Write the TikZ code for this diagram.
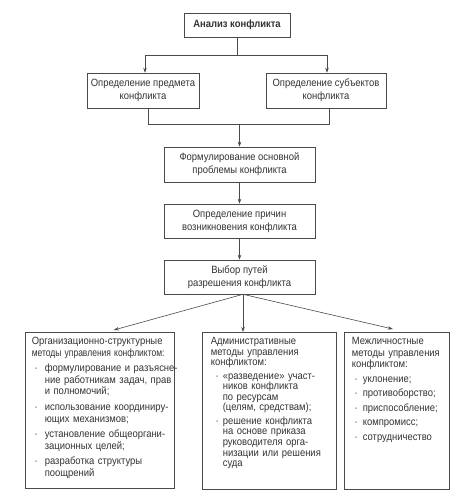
\documentclass[tikz,border=0pt]{standalone}
\usepackage{graphicx}
\usepackage{fontspec}
\setmainfont[FakeStretch=0.9]{Liberation Sans}
\usetikzlibrary{arrows.meta}
\definecolor{ink}{HTML}{333333}
\definecolor{lnc}{HTML}{4a4a4a}
\newlength\itgap
\newlength\bhang
\newlength\bsep
\newcommand\bitem{\par\vspace{\itgap}\leftskip=\bhang\noindent\llap{·\hspace{\bsep}}}
\begin{document}
\begin{tikzpicture}[x=1pt,y=-1pt, line width=0.6pt,
  box/.style={draw=lnc, text=ink, align=center, inner sep=0pt, font=\fontsize{10.5}{13}\selectfont},
  frame/.style={draw=lnc, anchor=north west, inner sep=0pt},
  txt/.style={anchor=north west, inner sep=0pt, text=ink, text width=170pt, font=\fontsize{10.5}{11.5}\selectfont},
  arr/.style={draw=lnc, -{Stealth[length=5pt,width=3.5pt]}},
  conn/.style={draw=lnc}]
\useasboundingbox (0,0) rectangle (462,497);
% top chain
\node[box, minimum width=106pt, minimum height=24pt, font=\bfseries\fontsize{10.5}{13}\selectfont] (A) at (237,25) {Анализ конфликта};
\node[box, minimum width=112pt, minimum height=35pt] (B) at (143,90.5) {Определение предмета\\конфликта};
\node[box, minimum width=120pt, minimum height=35pt] (C) at (326,90.5) {Определение субъектов\\конфликта};
\node[box, minimum width=151pt, minimum height=35pt] (D) at (239.5,164.5) {Формулирование основной\\проблемы конфликта};
\node[box, minimum width=151pt, minimum height=34pt] (E) at (239.5,221) {Определение причин\\возникновения конфликта};
\node[box, minimum width=151pt, minimum height=34pt] (F) at (239.5,277) {Выбор путей\\разрешения конфликта};
% connectors top
\coordinate (j1) at (237,55);
\draw[conn] (A.south) -- (j1);
\draw[arr] (j1) -| ([xshift=2pt]B.north);
\draw[arr] (j1) -| ([xshift=1pt]C.north);
\coordinate (j2) at (239.5,124);
\draw[conn] ([xshift=5pt]B.south) |- (j2);
\draw[conn] ([xshift=3pt]C.south) |- (j2);
\draw[arr] (j2) -- (D.north);
\draw[arr] (D) -- (E);
\draw[arr] (E) -- (F);
% bottom boxes
\node[frame, minimum width=149pt, minimum height=156pt] (G) at (25,332) {};
\node[frame, minimum width=134pt, minimum height=157pt] (H) at (202,332) {};
\node[frame, minimum width=105pt, minimum height=157pt] (I) at (344,332) {};
\coordinate (f0) at ([xshift=3.5pt]F.south);
\draw[arr] (f0) -- ([xshift=14pt,yshift=2pt]G.north);
\draw[arr] (f0) -- (f0 |- H.north);
\draw[arr] (f0) -- ([xshift=-4pt,yshift=3pt]I.north);
% bottom texts
\node[txt] (Gt) at (31.5,337) {\raggedright\setlength\itgap{4.2pt}\setlength\bhang{13pt}\setlength\bsep{7pt}%
Организационно-структурные\newline \scalebox{0.9}[1]{методы управления конфликтом:}
\bitem формулирование и разъясне-\newline ние работникам задач, прав\newline и полномочий;
\bitem использование координиру-\newline ющих механизмов;
\bitem установление общеоргани-\newline зационных целей;
\bitem разработка структуры\newline поощрений\par};
\node[txt, font=\fontsize{10.5}{10.6}\selectfont] (Ht) at (210.5,337) {\raggedright\setlength\itgap{2.8pt}\setlength\bhang{12pt}\setlength\bsep{4pt}%
Административные\newline методы управления\newline конфликтом:
\bitem «разведение» участ-\newline ников конфликта\newline по ресурсам\newline (целям, средствам);
\bitem решение конфликта\newline на основе приказа\newline руководителя орга-\newline низации или решения\newline суда\par};
\node[txt] (It) at (351.5,337) {\raggedright\setlength\itgap{3pt}\setlength\bhang{11pt}\setlength\bsep{5pt}%
Межличностные\newline методы управления\newline конфликтом:
\bitem уклонение;
\bitem противоборство;
\bitem приспособление;
\bitem компромисс;
\bitem сотрудничество\par};
\end{tikzpicture}
\end{document}
